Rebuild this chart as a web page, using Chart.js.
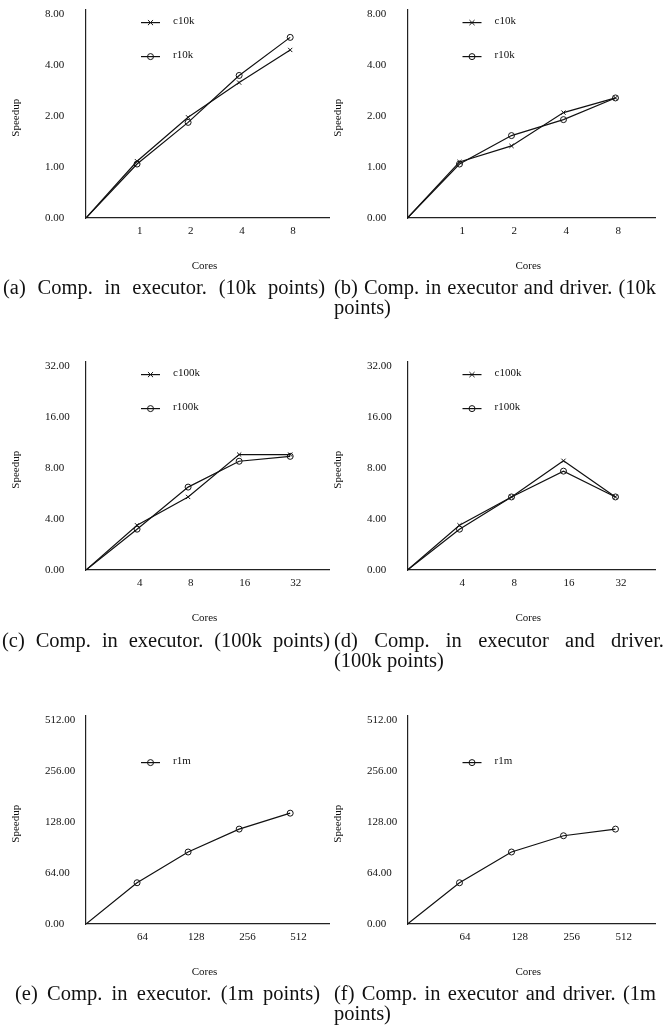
<!DOCTYPE html>
<html>
<head>
<meta charset="utf-8">
<script src="https://cdn.jsdelivr.net/npm/chart.js@4/dist/chart.umd.min.js"></script>
<style>
  body { margin: 0; background: #fff; }
  #page { position: relative; width: 668px; height: 1032px; background: #fff; overflow: hidden; }
  canvas { position: absolute; }
  .cap {
    position: absolute;
    font-family: "Liberation Serif", "Times New Roman", serif;
    font-size: 20.5px;
    line-height: 20px;
    color: #111;
    text-align: justify;
    text-align-last: justify;
  }
  .cap.left { text-align: left; text-align-last: left; }
</style>
</head>
<body>
<div id="page">
  <canvas id="chartA" width="334" height="278" style="left:0;top:0"></canvas>
  <canvas id="chartB" width="334" height="278" style="left:334px;top:0"></canvas>
  <canvas id="chartC" width="334" height="278" style="left:0;top:352px"></canvas>
  <canvas id="chartD" width="334" height="278" style="left:334px;top:352px"></canvas>
  <canvas id="chartE" width="334" height="278" style="left:0;top:706px"></canvas>
  <canvas id="chartF" width="334" height="278" style="left:334px;top:706px"></canvas>

  <div class="cap" style="left:3px;top:277px;width:322px">(a) Comp. in executor. (10k points)</div>
  <div class="cap" style="left:334px;top:277px;width:322px">(b) Comp. in executor and driver. (10k</div>
  <div class="cap left" style="left:334px;top:297px;width:322px">points)</div>

  <div class="cap" style="left:2px;top:630px;width:328px">(c) Comp. in executor. (100k points)</div>
  <div class="cap" style="left:334px;top:630px;width:330px">(d) Comp. in executor and driver.</div>
  <div class="cap left" style="left:334px;top:650px;width:330px">(100k points)</div>

  <div class="cap" style="left:15px;top:983px;width:305px">(e) Comp. in executor. (1m points)</div>
  <div class="cap" style="left:334px;top:983px;width:322px">(f) Comp. in executor and driver. (1m</div>
  <div class="cap left" style="left:334px;top:1003px;width:322px">points)</div>
</div>
<script>
// cores on the x axis (one tick per value)
const coresSmall = [1, 2, 4, 8];
const coresMid = [4, 8, 16, 32];
const coresLarge = [64, 128, 256, 512];

// speedup tick labels on the y axis (evenly spaced, doubling)
const speedTicksSmall = [0, 1, 2, 4, 8];
const speedTicksMid = [0, 4, 8, 16, 32];
const speedTicksLarge = [0, 64, 128, 256, 512];

// speedups
const c10kExec = [1.08, 1.96, 3.14, 4.89];
const r10kExec = [1.04, 1.83, 3.46, 5.80];
const c10kBoth = [1.07, 1.33, 2.09, 2.55];
const r10kBoth = [1.04, 1.53, 1.90, 2.55];
const c100kExec = [3.67, 5.39, 9.58, 9.58];
const r100kExec = [3.48, 6.16, 8.75, 9.35];
const c100kBoth = [3.67, 5.39, 8.80, 5.39];
const r100kBoth = [3.48, 5.39, 7.65, 5.39];
const r1mExec = [56, 85, 116, 144];
const r1mBoth = [56, 85, 106, 116];

const ink = '#111';
const serif = '"Liberation Serif", "Times New Roman", serif';

Chart.defaults.font.family = serif;
Chart.defaults.font.size = 11;
Chart.defaults.color = ink;

// position on the doubling axis: tick i sits at i
function speedPos(v, ticks) {
    if (v <= 0) return 0;
    return Math.log2(v / ticks[1]) + 1;
}

function toPoints(values, ticks) {
    const pts = [{ x: 0, y: 0 }];
    values.forEach((v, i) => pts.push({ x: i + 1, y: speedPos(v, ticks) }));
    return pts;
}

function drawMarker(ctx, style, x, y, r) {
    ctx.beginPath();
    if (style === 'circle') {
        ctx.arc(x, y, r, 0, Math.PI * 2);
    } else {
        const d = r * 0.85;
        ctx.moveTo(x - d, y - d); ctx.lineTo(x + d, y + d);
        ctx.moveTo(x + d, y - d); ctx.lineTo(x - d, y + d);
    }
    ctx.stroke();
}

const panelDecor = {
    id: 'panelDecor',
    afterDraw(chart) {
        const { ctx, chartArea, scales } = chart;
        ctx.save();
        ctx.fillStyle = ink;
        ctx.strokeStyle = ink;
        ctx.font = '11px ' + serif;
        ctx.textAlign = 'center';
        ctx.textBaseline = 'middle';
        ctx.fillText('Cores', (chartArea.left + chartArea.right) / 2 - 3, chartArea.bottom + 48.5);

        ctx.save();
        ctx.translate(scales.y.left - 28.5, (chartArea.top + chartArea.bottom) / 2 + 4);
        ctx.rotate(-Math.PI / 2);
        ctx.fillText('Speedup', 0, 0);
        ctx.restore();

        chart.data.datasets.forEach(ds => {
            const y = chartArea.top + 13 + ds.legendRow * 34;
            const x0 = chartArea.left + 55;
            ctx.lineWidth = 1.2;
            ctx.beginPath();
            ctx.moveTo(x0, y);
            ctx.lineTo(x0 + 19, y);
            ctx.stroke();
            ctx.lineWidth = 1;
            drawMarker(ctx, ds.pointStyle, x0 + 9.5, y, 3);
            ctx.textAlign = 'left';
            ctx.fillText(ds.label, chartArea.left + 87, y - 1);
        });
        ctx.restore();
    }
};

function series(label, values, ticks, style, row) {
    return {
        label: label,
        data: toPoints(values, ticks),
        legendRow: row,
        borderColor: ink,
        borderWidth: 1.2,
        pointStyle: style,
        pointRadius: c => (c.dataIndex === 0 ? 0 : 3),
        pointBorderColor: ink,
        pointBackgroundColor: 'rgba(0,0,0,0)',
        pointBorderWidth: 1,
        tension: 0
    };
}

function makePanel(id, cores, ticks, datasets, side) {
    const left = side === 'left';
    new Chart(document.getElementById(id), {
        type: 'line',
        data: { datasets: datasets },
        options: {
            responsive: false,
            animation: false,
            events: [],
            layout: { padding: { left: left ? 45 : 33, right: left ? 2 : 13, top: 4, bottom: 0 } },
            plugins: { legend: { display: false }, tooltip: { enabled: false } },
            scales: {
                x: {
                    type: 'linear',
                    min: 0,
                    max: 4.76,
                    grid: { display: false, drawTicks: false },
                    border: { display: true, color: '#222', width: 1.2 },
                    afterBuildTicks: s => { s.ticks = cores.map((c, i) => ({ value: i + 1 })); },
                    afterFit: s => { s.height = 60; },
                    ticks: {
                        align: 'start',
                        padding: 7,
                        maxRotation: 0,
                        autoSkip: false,
                        callback: v => String(cores[v - 1])
                    }
                },
                y: {
                    type: 'linear',
                    min: 0,
                    max: 4.08,
                    grid: { display: false, drawTicks: false },
                    border: { display: true, color: '#222', width: 1.2 },
                    afterBuildTicks: s => { s.ticks = ticks.map((t, i) => ({ value: i })); },
                    afterFit: s => { s.width = left ? 41 : 40.5; },
                    ticks: {
                        crossAlign: 'far',
                        autoSkip: false,
                        callback: v => ticks[v].toFixed(2)
                    }
                }
            }
        },
        plugins: [panelDecor]
    });
}

makePanel('chartA', coresSmall, speedTicksSmall, [
    series('c10k', c10kExec, speedTicksSmall, 'crossRot', 0),
    series('r10k', r10kExec, speedTicksSmall, 'circle', 1)
], 'left');

makePanel('chartB', coresSmall, speedTicksSmall, [
    series('c10k', c10kBoth, speedTicksSmall, 'crossRot', 0),
    series('r10k', r10kBoth, speedTicksSmall, 'circle', 1)
], 'right');

makePanel('chartC', coresMid, speedTicksMid, [
    series('c100k', c100kExec, speedTicksMid, 'crossRot', 0),
    series('r100k', r100kExec, speedTicksMid, 'circle', 1)
], 'left');

makePanel('chartD', coresMid, speedTicksMid, [
    series('c100k', c100kBoth, speedTicksMid, 'crossRot', 0),
    series('r100k', r100kBoth, speedTicksMid, 'circle', 1)
], 'right');

makePanel('chartE', coresLarge, speedTicksLarge, [
    series('r1m', r1mExec, speedTicksLarge, 'circle', 1)
], 'left');

makePanel('chartF', coresLarge, speedTicksLarge, [
    series('r1m', r1mBoth, speedTicksLarge, 'circle', 1)
], 'right');
</script>
</body>
</html>
